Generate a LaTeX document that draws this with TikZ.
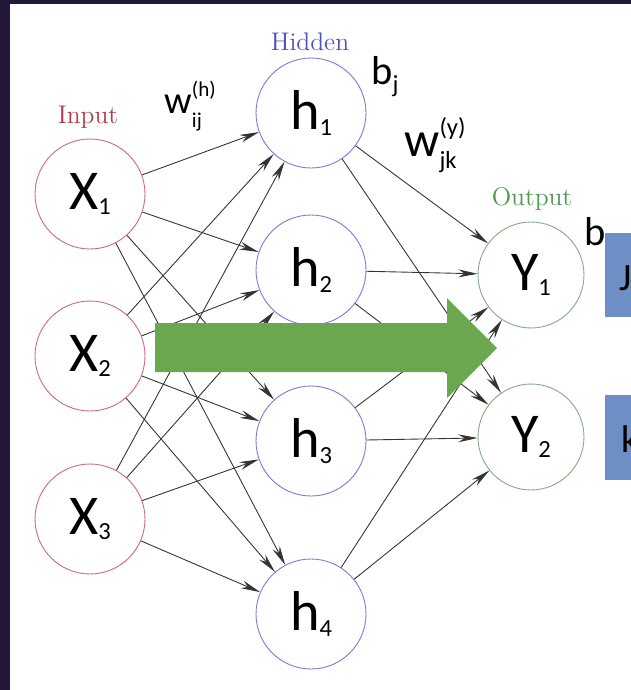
\documentclass[tikz,border=0pt]{standalone}
\usepackage{fontspec}
\newfontfamily\lbl{Carlito}
\usetikzlibrary{arrows.meta}

\definecolor{framebg}{RGB}{35,24,58}
\definecolor{inred}{RGB}{205,105,120}
\definecolor{hidblue}{RGB}{125,120,215}
\definecolor{outgreen}{RGB}{130,170,130}
\definecolor{intxt}{RGB}{175,60,75}
\definecolor{hidtxt}{RGB}{80,80,190}
\definecolor{outtxt}{RGB}{80,150,80}
\definecolor{arrgreen}{RGB}{106,168,79}
\definecolor{boxblue}{RGB}{110,143,198}

\newcommand\nsub[2]{#1\raisebox{-3pt}{\fontsize{14}{14}\selectfont #2}}
\newcommand\wsub[4]{w\rlap{\raisebox{0.42em}{\fontsize{#3}{#3}\selectfont(#2)}}\raisebox{-#4}{\fontsize{#3}{#3}\selectfont #1}}

\tikzset{
  neuron/.style={circle,inner sep=0pt,minimum size=2.2cm,line width=0.5pt,
    font=\lbl\fontsize{32}{32}\selectfont},
  inneuron/.style={neuron,draw=inred},
  hidneuron/.style={neuron,draw=hidblue},
  outneuron/.style={neuron,draw=outgreen,minimum size=2.12cm},
  layerlbl/.style={font=\fontsize{14.5}{14.5}\selectfont},
  weight/.style={inner sep=0pt,anchor=base west},
  link/.style={-{Stealth[length=11pt,width=4.5pt]},draw=black!80,line width=0.5pt},
}

\begin{document}
\begin{tikzpicture}[x=0.02cm,y=-0.02cm]
  \useasboundingbox (0,0) rectangle (631,690);
  \fill[framebg] (0,0) rectangle (631,690);
  \fill[white] (10,4) rectangle (631,690);

  % neurons
  \node[inneuron] (X1) at (90,194) {\nsub{X}{1}};
  \node[inneuron] (X2) at (90,356) {\nsub{X}{2}};
  \node[inneuron] (X3) at (90,519) {\nsub{X}{3}};
  \node[hidneuron] (h1) at (311,113) {\nsub{h}{1}};
  \node[hidneuron] (h2) at (311,270) {\nsub{h}{2}};
  \node[hidneuron] (h3) at (311,441) {\nsub{h}{3}};
  \node[hidneuron] (h4) at (311,614) {\nsub{h}{4}};
  \node[outneuron] (y1) at (531,275) {\nsub{Y}{1}};
  \node[outneuron] (y2) at (531,437) {\nsub{Y}{2}};

  % input -> hidden
  \draw[link] (X1)--(h1);
  \draw[link] (X1)--(h2);
  \draw[link] (X1)--(h3);
  \draw[link] (X1)--(h4);
  \draw[link] (X2)--(h1);
  \draw[link] (X2)--(h2);
  \draw[link] (X2)--(h3);
  \draw[link] (X2)--(h4);
  \draw[link] (X3)--(h1);
  \draw[link] (X3)--(h2);
  \draw[link] (X3)--(h3);
  \draw[link] (X3)--(h4);
  % hidden -> output
  \draw[link] (h1)--(y1);
  \draw[link] (h1)--(y2);
  \draw[link] (h2)--(y1);
  \draw[link] (h2)--(y2);
  \draw[link] (h3)--(y1);
  \draw[link] (h3)--(y2);
  \draw[link] (h4)--(y1);
  \draw[link] (h4)--(y2);

  % layer names and weights
  \node[layerlbl,text=intxt] (inlbl) at (88,117) {Input};
  \node[layerlbl,text=hidtxt] (hidlbl) at (310,42) {Hidden};
  \node[layerlbl,text=outtxt] (outlbl) at (532,199) {Output};
  \node[weight,font=\lbl\fontsize{22}{22}\selectfont] (wh) at (164,113) {\wsub{ij}{h}{12}{8pt}};
  \node[weight,font=\lbl\fontsize{28}{28}\selectfont] (wy) at (404,156) {\wsub{jk}{y}{14}{7pt}};
  \node[weight,font=\lbl\fontsize{23}{23}\selectfont] (bj) at (371,84) {b\raisebox{-5pt}{\fontsize{14}{14}\selectfont j}};
  \node[weight,font=\lbl\fontsize{23}{23}\selectfont] (bk) at (584,245) {b};

  % big arrow
  \fill[arrgreen] (155,323) -- (447,323) -- (447,298) -- (497,348) -- (447,398)
    -- (447,372) -- (155,372) -- cycle;

  % boxes on the right
  \fill[boxblue] (605,233) rectangle (660,317);
  \fill[boxblue] (605,395) rectangle (660,480);
  \node[weight,font=\lbl\fontsize{22}{22}\selectfont] (jtxt) at (619,290) {J};
  \node[weight,font=\lbl\fontsize{22}{22}\selectfont] (ktxt) at (621,452) {k};
\end{tikzpicture}
\end{document}
